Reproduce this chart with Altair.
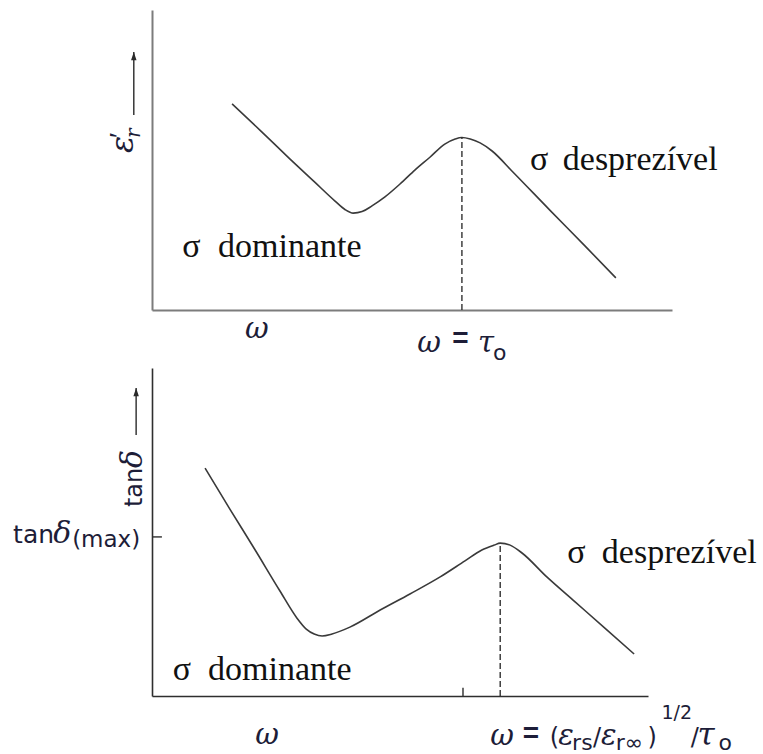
import altair as alt
import pandas as pd

# Relative permittivity vs. frequency (arbitrary units)
omega_eps = [1.54, 2.08, 2.65, 3.13, 3.52, 3.71, 3.87, 4.04, 4.23, 4.48, 4.77, 5.06,
             5.35, 5.63, 5.83, 5.96, 6.12, 6.31, 6.54, 6.94, 7.65, 8.33, 8.92]
eps_r = [6.87, 5.99, 5.04, 4.26, 3.63, 3.35, 3.23, 3.28, 3.47, 3.77, 4.20, 4.67,
         5.10, 5.53, 5.70, 5.75, 5.70, 5.57, 5.30, 4.60, 3.33, 2.13, 1.07]

# Loss tangent vs. frequency (arbitrary units)
omega_tan = [1.07, 1.57, 2.08, 2.58, 2.92, 3.11, 3.27, 3.43, 3.63, 3.99, 4.60, 5.20,
             5.81, 6.31, 6.65, 6.90, 7.02, 7.22, 7.46, 7.96, 8.53, 9.13, 9.72]
tan_delta = [6.95, 5.70, 4.45, 3.20, 2.38, 2.04, 1.89, 1.83, 1.89, 2.10, 2.62, 3.11,
             3.63, 4.12, 4.45, 4.60, 4.66, 4.60, 4.36, 3.63, 2.87, 2.07, 1.28]

tan_max_level = [4.85]      # tick marking tan(delta)_max on the y axis
tan_x_tick = [6.27]         # small tick on the omega axis

INK = "#1d1d38"
CURVE = "#3a3a3a"
SERIF = "Liberation Serif"
GREEK = "DejaVu Serif"
SANS = "DejaVu Sans"


def frame(xs, ys, ax):
    def X(field):
        return alt.X(field, type="quantitative", scale=xs, axis=ax)

    def Y(field):
        return alt.Y(field, type="quantitative", scale=ys, axis=ax)
    return X, Y


def texts(rows, X, Y, **style):
    df = pd.DataFrame(rows, columns=["t", "x", "y"])
    return alt.Chart(df).mark_text(**style).encode(x=X("x"), y=Y("y"), text="t:N")


def arrow(xv, y_from, y_to, X, Y):
    df = pd.DataFrame({"x": [xv], "y0": [y_from], "y1": [y_to]})
    shaft = alt.Chart(df).mark_rule(color="#2a2a2a", strokeWidth=1.4).encode(
        x=X("x"), y=Y("y0"), y2=alt.Y2("y1"))
    head = alt.Chart(df).mark_point(
        shape="M0,0L1,3L-1,3Z", filled=True, size=30, color="#2a2a2a", opacity=1
    ).encode(x=X("x"), y=Y("y1"))
    return shaft + head


def peak_rule(xs_vals, ys_vals, X, Y, x_min=0.0):
    pts = [(x, y) for x, y in zip(xs_vals, ys_vals) if x > x_min]
    px, py = max(pts, key=lambda p: p[1])
    df = pd.DataFrame({"x": [px], "y0": [0.0], "y1": [py]})
    return alt.Chart(df).mark_rule(color="#222222", strokeWidth=1.3,
                                   strokeDash=[6, 3]).encode(
        x=X("x"), y=Y("y0"), y2=alt.Y2("y1"))


# ---------------- upper panel: eps'_r ----------------
ax_top = alt.Axis(labels=False, ticks=False, grid=False, title=None,
                  domainColor="#7c7c7c", domainWidth=2)
XT, YT = frame(alt.Scale(domain=[0, 10], nice=False, zero=False),
               alt.Scale(domain=[0, 10], nice=False, zero=False), ax_top)

curve_top = alt.Chart(pd.DataFrame({"x": omega_eps, "y": eps_r})).mark_line(
    color=CURVE, strokeWidth=1.6, interpolate="monotone").encode(x=XT("x"), y=YT("y"))

top = alt.layer(
    curve_top,
    peak_rule(omega_eps, eps_r, XT, YT, x_min=5.0),
    texts([("σ", 0.58, 1.77), ("dominante", 1.27, 1.77),
           ("σ", 7.27, 4.67), ("desprezível", 7.90, 4.67)],
          XT, YT, font=SERIF, fontSize=34, align="left", baseline="alphabetic", color="#111111"),
    texts([("ω", 1.79, -0.93), ("ω", 5.10, -1.40), ("τ", 6.27, -1.40)],
          XT, YT, font=GREEK, fontStyle="italic", fontSize=29, align="left",
          baseline="alphabetic", color=INK),
    texts([("=", 5.93, -0.97)], XT, YT, font="Liberation Sans", fontWeight="bold", fontSize=28,
          align="center", baseline="middle", color=INK),
    texts([("o", 6.56, -1.67)], XT, YT, font=SANS, fontSize=22, align="left",
          baseline="alphabetic", color=INK),
    # rotated y label: eps'_r
    texts([("ε", -0.37, 5.23)], XT, YT, font=GREEK, fontStyle="italic", fontSize=32,
          angle=270, align="left", baseline="alphabetic", color=INK),
    texts([("′", -0.47, 5.73)], XT, YT, font=SERIF, fontSize=28,
          angle=270, align="left", baseline="alphabetic", color=INK),
    texts([("r", -0.23, 5.73)], XT, YT, font=GREEK, fontStyle="italic", fontSize=20,
          angle=270, align="left", baseline="alphabetic", color=INK),
    arrow(-0.35, 6.5, 8.6, XT, YT),
).properties(width=520, height=300)

# ---------------- lower panel: tan(delta) ----------------
ax_bot = alt.Axis(labels=False, ticks=False, grid=False, title=None,
                  domainColor="#2e2e2e", domainWidth=1.6)
XB, YB = frame(alt.Scale(domain=[0, 10], nice=False, zero=False),
               alt.Scale(domain=[0, 10], nice=False, zero=False), ax_bot)

curve_bot = alt.Chart(pd.DataFrame({"x": omega_tan, "y": tan_delta})).mark_line(
    color=CURVE, strokeWidth=1.6, interpolate="monotone").encode(x=XB("x"), y=YB("y"))

ytick = alt.Chart(pd.DataFrame({"y": tan_max_level, "x0": [0.0], "x1": [0.2]})).mark_rule(
    color="#2e2e2e", strokeWidth=1.4).encode(x=XB("x0"), x2=alt.X2("x1"), y=YB("y"))
xtick = alt.Chart(pd.DataFrame({"x": tan_x_tick, "y0": [0.0], "y1": [0.25]})).mark_rule(
    color="#2e2e2e", strokeWidth=1.4).encode(x=XB("x"), y=YB("y0"), y2=alt.Y2("y1"))

main_y = -1.49
sub_y = -1.65
bottom = alt.layer(
    curve_bot,
    peak_rule(omega_tan, tan_delta, XB, YB, x_min=5.0),
    ytick, xtick,
    texts([("σ", 0.42, 0.49), ("dominante", 1.13, 0.49),
           ("σ", 8.37, 4.06), ("desprezível", 9.07, 4.06)],
          XB, YB, font=SERIF, fontSize=34, align="left", baseline="alphabetic", color="#111111"),
    texts([("ω", 2.08, -1.46), ("ω", 6.82, main_y), ("ε", 8.19, main_y),
           ("ε", 9.05, main_y)],
          XB, YB, font=GREEK, fontStyle="italic", fontSize=29, align="left",
          baseline="alphabetic", color=INK),
    texts([("τ", 11.00, main_y)],
          XB, YB, font=GREEK, fontStyle="italic", fontSize=31, align="left",
          baseline="alphabetic", color=INK),
    texts([("=", 7.64, -1.16)], XB, YB, font="Liberation Sans", fontWeight="bold", fontSize=28,
          align="center", baseline="middle", color=INK),
    texts([("(", 8.02, main_y), ("/", 8.89, main_y), (")", 9.99, main_y),
           ("/", 10.86, main_y)],
          XB, YB, font=SANS, fontSize=24, align="left", baseline="alphabetic", color=INK),
    texts([("rs", 8.47, sub_y), ("r∞", 9.35, sub_y), ("o", 11.42, sub_y)],
          XB, YB, font=SANS, fontSize=22, align="left", baseline="alphabetic", color=INK),
    texts([("1/2", 10.27, -0.70)],
          XB, YB, font=SANS, fontSize=19, align="left", baseline="alphabetic", color=INK),
    # tan(delta)_max label at the y tick
    texts([("tan", -2.80, 4.67)], XB, YB, font=SANS, fontSize=25, align="left",
          baseline="alphabetic", color=INK),
    texts([("δ", -1.99, 4.67)], XB, YB, font=GREEK, fontStyle="italic", fontSize=30,
          align="left", baseline="alphabetic", color=INK),
    texts([("(max)", -1.61, 4.54)], XB, YB, font=SANS, fontSize=23, align="left",
          baseline="alphabetic", color=INK),
    # rotated y label: tan delta
    texts([("tan", -0.20, 5.76)], XB, YB, font=SANS, fontSize=24, angle=270,
          align="left", baseline="alphabetic", color=INK),
    texts([("δ", -0.20, 6.95)], XB, YB, font=GREEK, fontStyle="italic", fontSize=30,
          angle=270, align="left", baseline="alphabetic", color=INK),
    arrow(-0.32, 7.96, 9.39, XB, YB),
).properties(width=496, height=328)

chart = alt.vconcat(top, bottom, spacing=58, bounds="flush").properties(
    padding={"left": 13, "top": 10, "right": 2, "bottom": 2},
    background="white",
).configure_view(stroke=None)

chart.save("out.html", embed_options={"renderer": "svg", "actions": False})
